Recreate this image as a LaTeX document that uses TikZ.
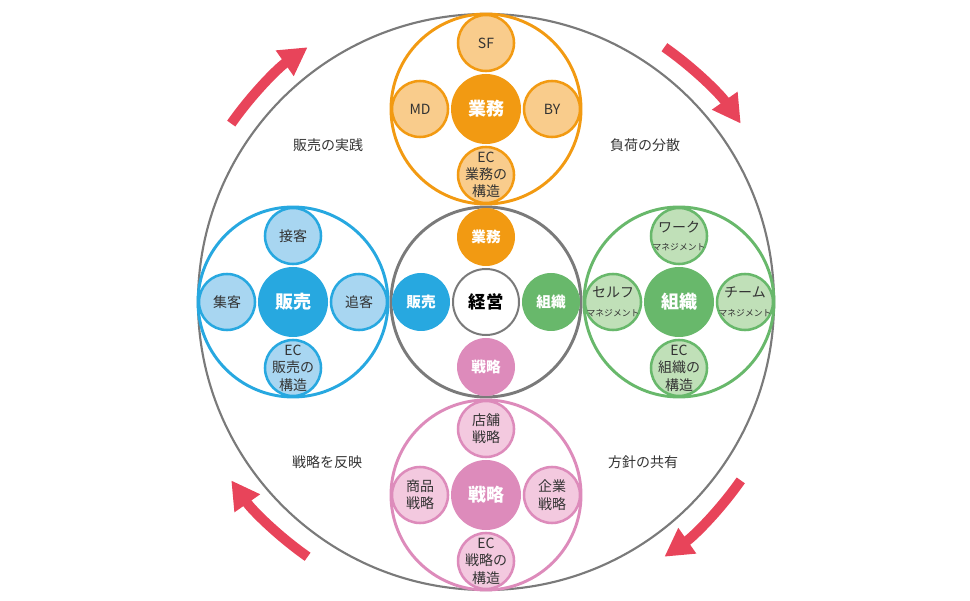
\documentclass[tikz,border=0pt]{standalone}
\usepackage{fontspec}
\setmainfont{Noto Sans CJK JP}
\usetikzlibrary{arrows.meta}

\definecolor{lineGray}{HTML}{7A7A7A}
\definecolor{textGray}{HTML}{333333}
\definecolor{arrowRed}{HTML}{E8445A}
\definecolor{gyoC}{HTML}{F29A12}
\definecolor{gyoL}{HTML}{F9CC8C}
\definecolor{hanC}{HTML}{27A8E0}
\definecolor{hanL}{HTML}{A8D6F1}
\definecolor{sosC}{HTML}{68B86B}
\definecolor{sosL}{HTML}{C0E0B8}
\definecolor{senC}{HTML}{DD8BBB}
\definecolor{senL}{HTML}{F3C9DF}

\begin{document}
\begin{tikzpicture}[
  x=0.75pt, y=0.75pt,
  font=\fontsize{10.5pt}{13pt}\selectfont,
  ring/.style={circle, draw, line width=2.2pt, minimum size=142.5pt, inner sep=0pt},
  hubc/.style={circle, minimum size=52.5pt, inner sep=0pt, text=white,
    font=\fontsize{13.5pt}{16pt}\selectfont\bfseries},
  sat/.style={circle, draw, line width=1.9pt, minimum size=42pt, inner sep=-9pt,
    align=center, text=textGray},
  core/.style={circle, minimum size=43.5pt, inner sep=0pt, text=white,
    font=\fontsize{11pt}{13pt}\selectfont\bfseries},
  note/.style={text=textGray},
  flow/.style={draw=arrowRed, line width=7.5pt, -{Triangle[length=21pt, width=22pt]}}
]
\useasboundingbox (0,0) rectangle (970,600);

% outer cycle and its four arrows
\node[circle, draw=lineGray, line width=1.6pt, minimum size=432pt, inner sep=0pt] (cycle) at (486,298) {};
\draw[flow] ([shift={(145:311)}]cycle.center) arc[start angle=145, end angle=125, radius=311];
\draw[flow] ([shift={(55:311)}]cycle.center)  arc[start angle=55,  end angle=35,  radius=311];
\draw[flow] ([shift={(-35:311)}]cycle.center) arc[start angle=-35, end angle=-55, radius=311];
\draw[flow] ([shift={(235:311)}]cycle.center) arc[start angle=235, end angle=215, radius=311];

\node[note] (lblHan) at (328,455) {販売の実践};
\node[note] (lblSos) at (645,455) {負荷の分散};
\node[note] (lblSen) at (327,138) {戦略を反映};
\node[note] (lblGyo) at (643,138) {方針の共有};

% cluster rings
\node[ring, draw=lineGray] (keiRing) at (486,298) {};
\node[ring, draw=gyoC] (gyoRing) at (486,491) {};
\node[ring, draw=hanC] (hanRing) at (293,298) {};
\node[ring, draw=sosC] (sosRing) at (679,298) {};
\node[ring, draw=senC] (senRing) at (486,105) {};

% centre: management
\node[circle, draw=lineGray, line width=1.5pt, fill=white, minimum size=49.5pt, inner sep=0pt,
  font=\fontsize{13pt}{15pt}\selectfont\bfseries] (keiei) at (486,298) {経営};
\node[core, fill=gyoC] (kGyo) at (486,363) {業務};
\node[core, fill=hanC] (kHan) at (421,298) {販売};
\node[core, fill=sosC] (kSos) at (551,298) {組織};
\node[core, fill=senC] (kSen) at (486,233) {戦略};

% top: operations
\node[hubc, fill=gyoC] (gyo) at (486,491) {業務};
\node[sat, draw=gyoC, fill=gyoL] (gyoN) at (486,557) {SF};
\node[sat, draw=gyoC, fill=gyoL] (gyoW) at (420,491) {MD};
\node[sat, draw=gyoC, fill=gyoL] (gyoE) at (552,491) {BY};
\node[sat, draw=gyoC, fill=gyoL] (gyoS) at (486,425) {EC\\業務の\\構造};

% left: sales
\node[hubc, fill=hanC] (han) at (293,298) {販売};
\node[sat, draw=hanC, fill=hanL] (hanN) at (293,364) {接客};
\node[sat, draw=hanC, fill=hanL] (hanW) at (227,298) {集客};
\node[sat, draw=hanC, fill=hanL] (hanE) at (359,298) {追客};
\node[sat, draw=hanC, fill=hanL] (hanS) at (293,232) {EC\\販売の\\構造};

% right: organisation
\node[hubc, fill=sosC] (sos) at (679,298) {組織};
\node[sat, draw=sosC, fill=sosL] (sosN) at (679,364)
  {ワーク\\[1pt]{\fontsize{6.6pt}{8pt}\selectfont マネジメント}};
\node[sat, draw=sosC, fill=sosL] (sosW) at (613,298)
  {セルフ\\[1pt]{\fontsize{6.6pt}{8pt}\selectfont マネジメント}};
\node[sat, draw=sosC, fill=sosL] (sosE) at (745,298)
  {チーム\\[1pt]{\fontsize{6.6pt}{8pt}\selectfont マネジメント}};
\node[sat, draw=sosC, fill=sosL] (sosS) at (679,232) {EC\\組織の\\構造};

% bottom: strategy
\node[hubc, fill=senC] (sen) at (486,105) {戦略};
\node[sat, draw=senC, fill=senL] (senN) at (486,171) {店舗\\戦略};
\node[sat, draw=senC, fill=senL] (senW) at (420,105) {商品\\戦略};
\node[sat, draw=senC, fill=senL] (senE) at (552,105) {企業\\戦略};
\node[sat, draw=senC, fill=senL] (senS) at (486,39) {EC\\戦略の\\構造};

\end{tikzpicture}
\end{document}
